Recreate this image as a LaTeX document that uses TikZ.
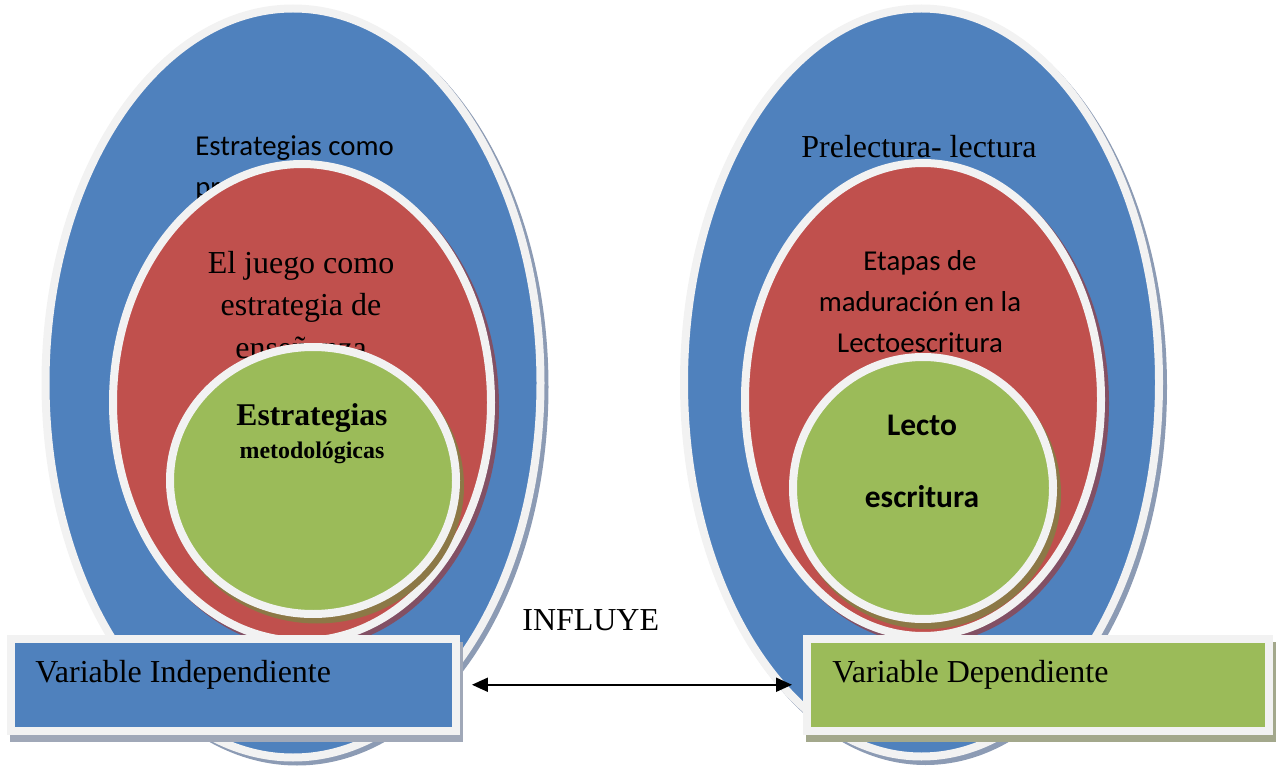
\documentclass[tikz,border=0pt]{standalone}
\usepackage{fontspec}
\setmainfont{Liberation Serif}
\newfontfamily\calibri{Carlito}
\usepackage{tikz}
\definecolor{ofblue}{RGB}{79,129,189}
\definecolor{ofred}{RGB}{192,80,77}
\definecolor{ofgreen}{RGB}{155,187,89}
\definecolor{ring}{RGB}{242,242,242}
\definecolor{shblue}{RGB}{140,155,180}
\definecolor{shred}{RGB}{130,80,100}
\definecolor{shgreen}{RGB}{140,120,70}
\definecolor{shbox}{RGB}{160,168,184}
\definecolor{shboxg}{RGB}{163,168,140}
\usetikzlibrary{arrows.meta}
\tikzset{
    txt/.style = {inner sep=0pt, font=\fontsize{18.2}{24.1}\selectfont},
    ctxt/.style = {inner sep=0pt, font=\calibri\fontsize{16.4}{23.5}\selectfont}
}

\begin{document}
\begin{tikzpicture}[line cap=round,line join=round,x=0.02cm,y=0.02cm,
    ringline/.style={draw=ring, line width=0.16cm},
    box/.style={ringline, rectangle, line join=miter, minimum width=#1, minimum height=1.85cm, inner sep=0pt, anchor=south west}]
    \useasboundingbox (0,0) rectangle (1282,772);

    % independiente
    \fill[shblue] (297,385) ellipse [x radius=251.5, y radius=378.5];
    \draw[ringline, fill=ofblue] (293,389) ellipse [x radius=247.5, y radius=374.5];
    \node[ctxt, anchor=base west, align=left] (stratL) at (195,575.5) {Estrategias como\\pr};
    \fill[shred] (306,365.5) ellipse [x radius=193, y radius=242.5];
    \draw[ringline, fill=ofred] (302,369.5) ellipse [x radius=189, y radius=238.5];
    \node[txt, anchor=base, align=center] (juego) at (301,414) {El juego como\\estrategia de\\enseñanza};
    \fill[shgreen] (317,286) ellipse [x radius=147, y radius=137.5];
    \draw[ringline, fill=ofgreen] (313,291.5) ellipse [x radius=143, y radius=133.5];
    \node[inner sep=0pt, font=\bfseries\fontsize{18}{20}\selectfont, anchor=base] (estrat) at (312,347) {Estrategias};
    \node[inner sep=0pt, font=\bfseries\fontsize{13.6}{16}\selectfont, anchor=base] (metod) at (312,314) {metodológicas};

    % dependiente
    \fill[shblue] (925.5,385) ellipse [x radius=241.5, y radius=378];
    \draw[ringline, fill=ofblue] (921.5,389.5) ellipse [x radius=237.5, y radius=374];
    \node[txt, anchor=base] (prelect) at (919,614) {Prelectura- lectura};
    \fill[shred] (927,368.5) ellipse [x radius=182, y radius=240.5];
    \draw[ringline, fill=ofred] (923,372.5) ellipse [x radius=178, y radius=236.5];
    \node[ctxt, anchor=base, align=center] (etapas) at (920,419) {Etapas de\\maduración en la\\Lectoescritura};
    \fill[shgreen] (927,278) ellipse [x radius=134, y radius=135];
    \draw[ringline, fill=ofgreen] (923,284) ellipse [x radius=130, y radius=131];
    \node[inner sep=0pt, font=\calibri\bfseries\fontsize{17.9}{20}\selectfont, anchor=base] (lecto) at (922,337) {Lecto};
    \node[inner sep=0pt, font=\calibri\bfseries\fontsize{17.9}{20}\selectfont, anchor=base] (escrit) at (922,265) {escritura};

    % variables
    \fill[shbox] (10,30) rectangle (463,130);
    \node[box=8.9cm, fill=ofblue] (varInd) at (7,37) {};
    \node[txt, anchor=base west] (indTxt) at (35,90) {Variable Independiente};
    \fill[shboxg] (806,30) rectangle (1276,130);
    \node[box=9.24cm, fill=ofgreen] (varDep) at (803,37) {};
    \node[txt, anchor=base west] (depTxt) at (832,90) {Variable Dependiente};

    \draw[{Triangle[length=0.32cm,width=0.28cm]}-{Triangle[length=0.32cm,width=0.28cm]}, line width=1.1pt, line cap=butt, shorten <=0.24cm, shorten >=0.22cm] (varInd.east) -- (varDep.west);
    \node[txt, anchor=base west] (influye) at (522,142) {INFLUYE};
\end{tikzpicture}
\end{document}
